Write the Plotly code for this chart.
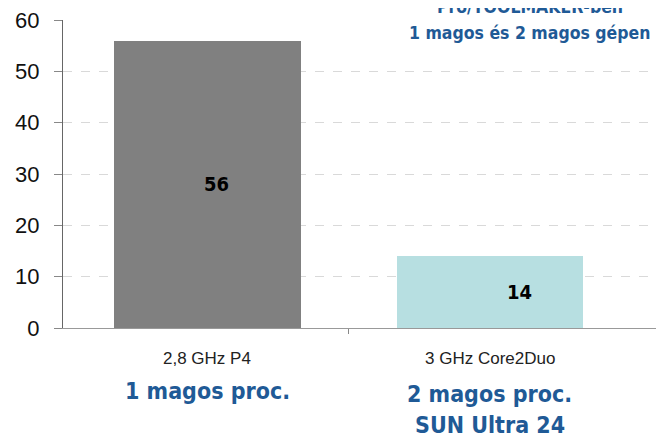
import plotly.graph_objects as go

categories = ["2,8 GHz P4", "3 GHz Core2Duo"]
subtitles = [["1 magos proc."], ["2 magos proc.", "SUN Ultra 24"]]
values = [56, 14]
colors = ["#808080", "#B7DFE1"]
title_lines = ["Pro/TOOLMAKER-ben", "1 magos és 2 magos gépen"]
y_ticks = [0, 10, 20, 30, 40, 50, 60]

COND = "Impact, 'Liberation Sans Narrow', 'DejaVu Sans Condensed', sans-serif"
BLUE = "#1F5A96"
xpos = list(range(len(categories)))

fig = go.Figure()
fig.add_trace(go.Bar(
    x=xpos, y=values, width=0.66,
    marker=dict(color=colors, line=dict(width=0)),
    hoverinfo="skip",
))

# value labels
label_shift = [9, 30]
for i, v in enumerate(values):
    fig.add_annotation(x=xpos[i], y=v / 2, text=f"<b>{v}</b>", showarrow=False,
                       xshift=label_shift[i],
                       font=dict(family=COND, size=20, color="#000000"))

# category labels
sub_shifts = [[-63], [-66, -97]]
for i, c in enumerate(categories):
    fig.add_annotation(x=xpos[i], y=0, yref="y", text=c, showarrow=False,
                       yanchor="middle", yshift=-30,
                       font=dict(family="Liberation Sans, Arial, sans-serif", size=17, color="#222222"))
    for line, sh in zip(subtitles[i], sub_shifts[i]):
        fig.add_annotation(x=xpos[i], y=0, yref="y", text=f"<b>{line}</b>", showarrow=False,
                           yanchor="middle", yshift=sh,
                           font=dict(family=COND, size=23, color=BLUE))

# title (top line partly cut off at the top edge, as in the reference)
for line, sh in zip(title_lines, [13, -13]):
    fig.add_annotation(x=0.777, xref="paper", y=1, yref="paper",
                       text=f"<b>{line}</b>", showarrow=False,
                       xanchor="center", yanchor="middle", yshift=sh,
                       font=dict(family=COND, size=17.5, color=BLUE))

fig.update_layout(
    width=656, height=431,
    margin=dict(l=55, r=0, t=12, b=111),
    plot_bgcolor="white", paper_bgcolor="white",
    showlegend=False, bargap=0,
)
fig.update_xaxes(
    range=[-0.511, 1.616], tickvals=[0.5], ticktext=[""],
    ticks="outside", ticklen=5, tickcolor="#888888",
    showgrid=False, showline=True, linecolor="#999999", linewidth=1,
    zeroline=False,
)
fig.update_yaxes(
    range=[0, 60], tickvals=y_ticks,
    ticks="outside", ticklen=8, tickcolor="#888888",
    ticklabelstandoff=10, ticklabeloverflow="allow",
    tickfont=dict(family="Liberation Sans, Arial, sans-serif", size=22, color="#111111"),
    showgrid=True, gridcolor="#D9D9D9", griddash="dash", gridwidth=1,
    showline=True, linecolor="#666666", linewidth=1,
    zeroline=False,
)
fig.write_html("out.html")
